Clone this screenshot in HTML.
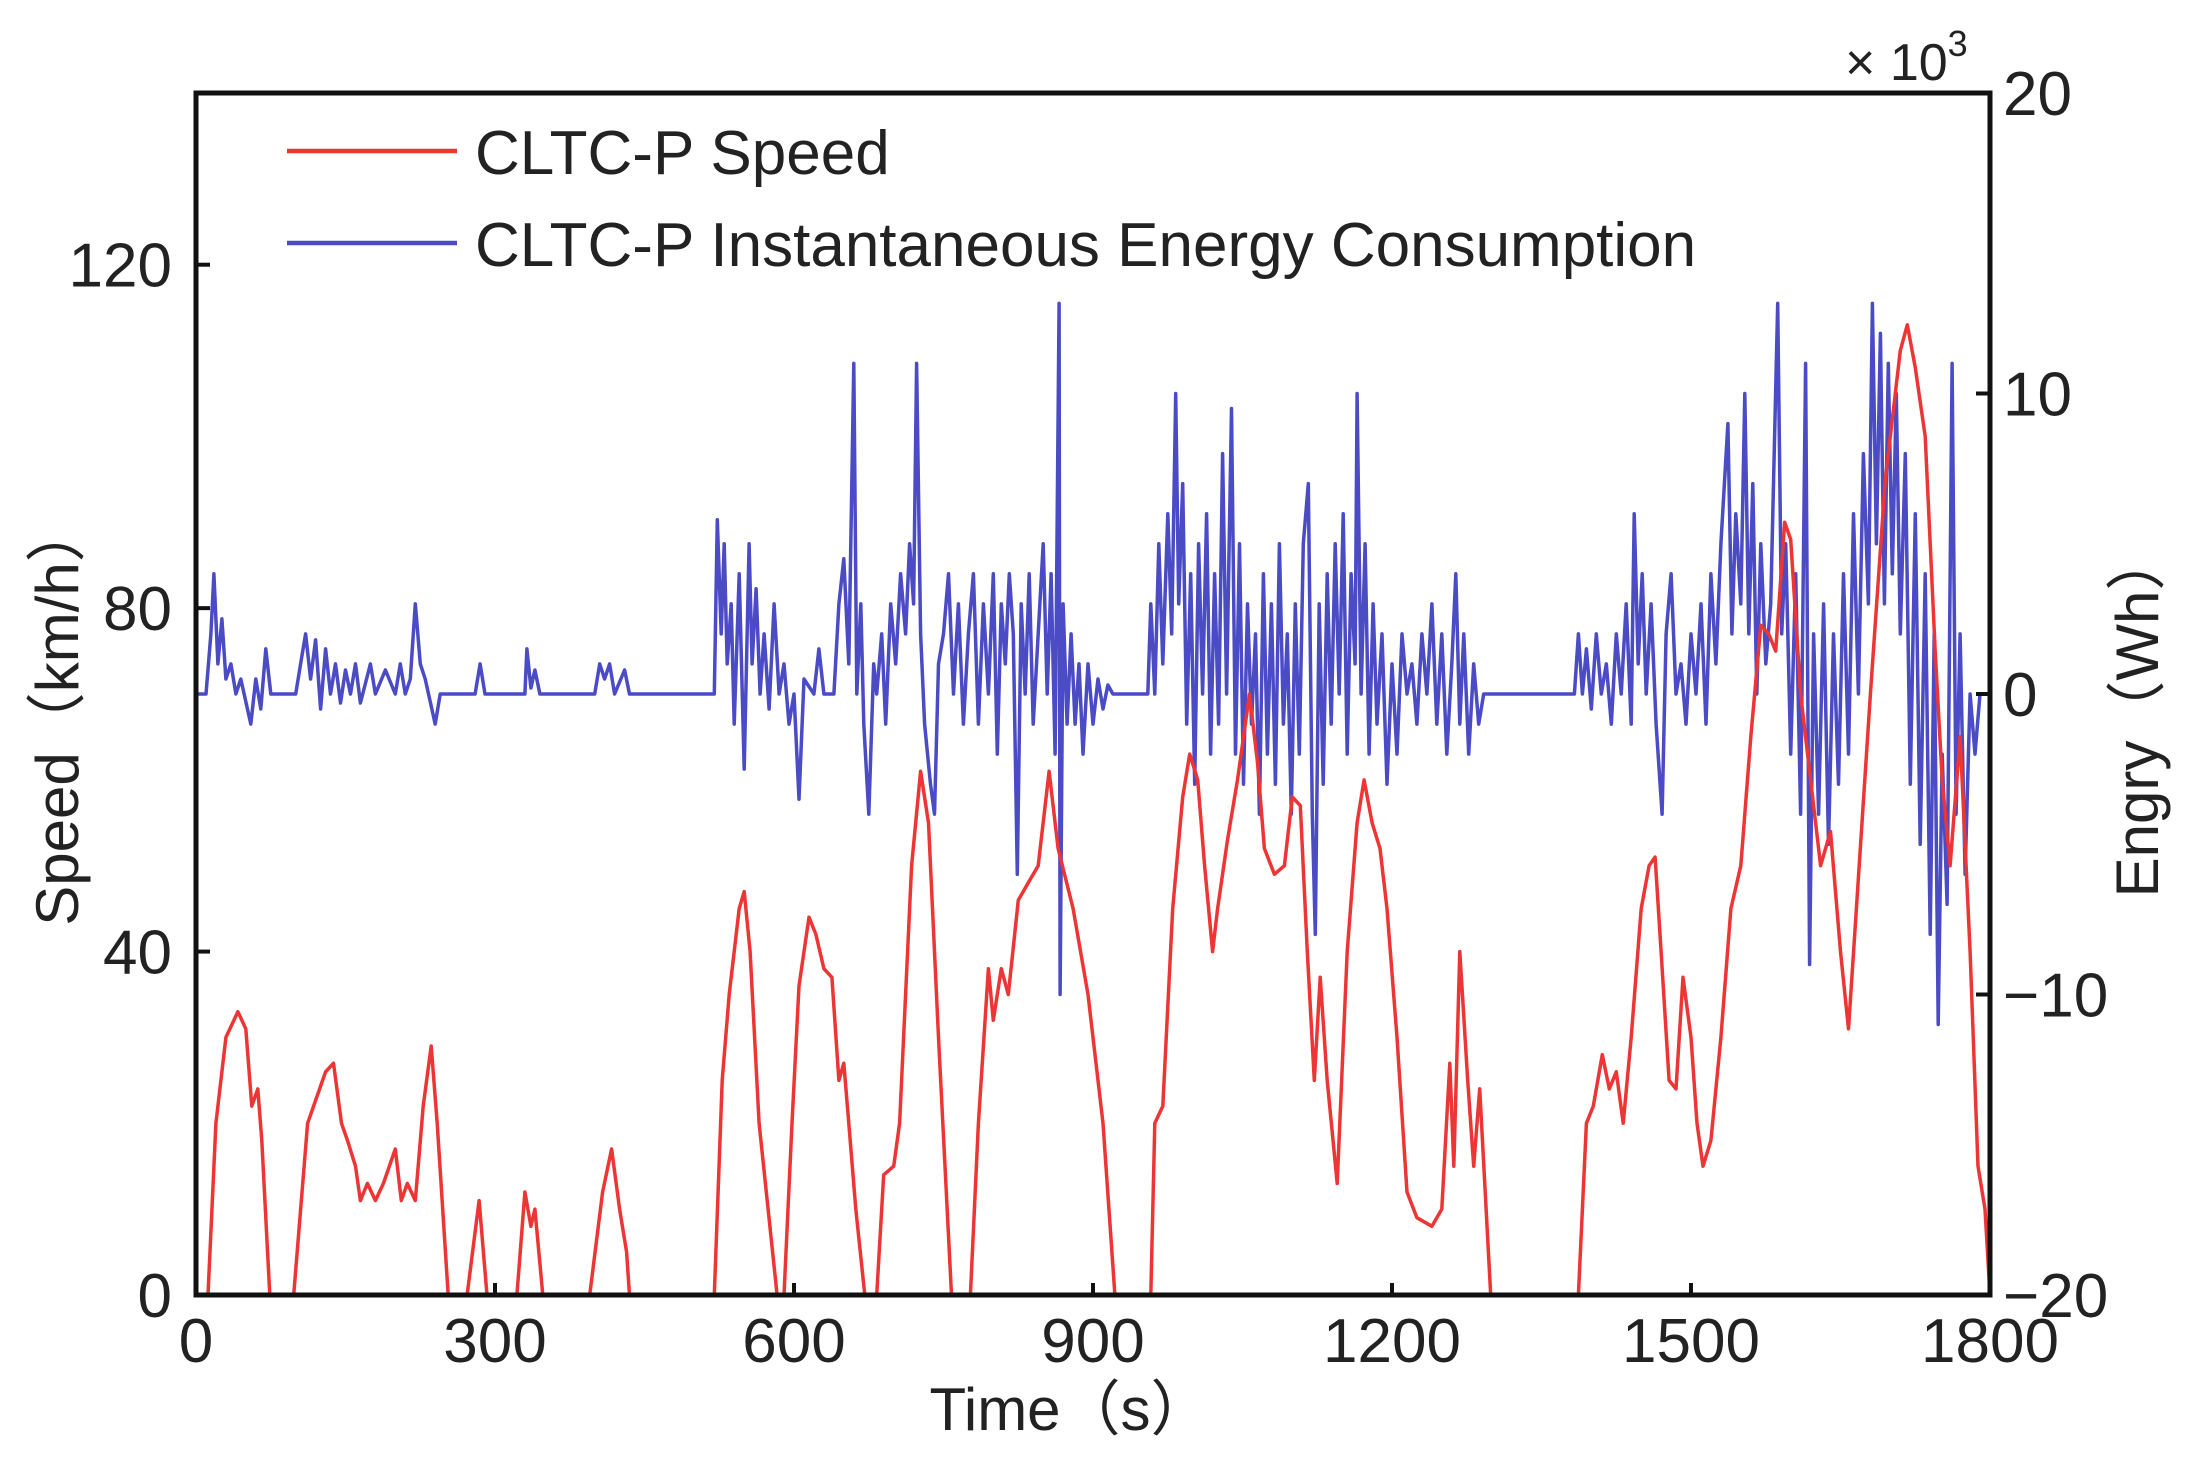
<!DOCTYPE html>
<html><head><meta charset="utf-8"><style>
html,body{margin:0;padding:0;background:#fff;}
svg{display:block;}
text{font-family:"Liberation Sans","Noto Sans CJK SC",sans-serif;fill:#222;}
</style></head><body>
<svg id="chart" width="2191" height="1457" viewBox="0 0 2191 1457" xmlns="http://www.w3.org/2000/svg">
<g id="series"></g>
<g id="axes"></g>
</svg>
<script>
const speedT=[0,12,20,30,42,50,56,62,66,74,98,112,118,130,138,146,152,160,165,172,180,188,200,206,212,220,228,236,242,253,272,284,292,322,330,336,340,348,395,408,417,425,432,435,520,528,535,545,550,556,565,583,590,598,605,615,622,630,638,645,650,655,662,671,683,690,700,706,718,727,735,745,758,777,785,795,800,808,815,825,835,845,856,865,880,895,910,922,958,962,970,980,990,997,1005,1012,1020,1025,1035,1045,1057,1065,1072,1082,1092,1100,1108,1115,1122,1128,1135,1145,1155,1165,1172,1180,1188,1195,1205,1215,1225,1240,1250,1258,1262,1268,1276,1282,1288,1299,1387,1395,1402,1411,1418,1425,1432,1440,1450,1458,1464,1470,1478,1485,1492,1500,1506,1512,1520,1530,1540,1550,1560,1570,1578,1585,1594,1600,1610,1620,1630,1640,1650,1658,1666,1680,1695,1710,1717,1725,1735,1745,1752,1760,1770,1780,1788,1795,1800];
const speedV=[0,0,20,30,33,31,22,24,18,0,0,20,22,26,27,20,18,15,11,13,11,13,17,11,13,11,22,29,20,0,0,11,0,0,12,8,10,0,0,12,17,10,5,0,0,25,35,45,47,40,20,0,0,20,36,44,42,38,37,25,27,20,10,0,0,14,15,20,50,61,55,30,0,0,20,38,32,38,35,46,48,50,61,52,45,35,20,0,0,20,22,45,58,63,60,50,40,45,53,60,70,62,52,49,50,58,57,40,25,37,25,13,40,55,60,55,52,45,30,12,9,8,10,27,15,40,25,15,24,0,0,20,22,28,24,26,20,30,45,50,51,40,25,24,37,30,20,15,18,30,45,50,65,78,77,75,90,88,70,60,50,54,40,31,45,70,95,110,113,108,100,75,60,50,65,40,15,10,0];
const energyT=[0,10,15,18,22,26,30,35,40,45,55,60,65,70,75,100,105,110,115,120,125,130,135,140,145,150,155,160,165,175,180,190,200,205,210,215,220,225,230,240,245,255,280,285,290,330,332,336,340,345,400,405,410,415,420,430,435,520,523,527,530,533,537,540,545,550,555,558,562,566,570,575,580,585,590,595,600,605,610,620,625,630,640,645,650,655,660,663,667,670,675,680,683,688,692,697,702,707,712,716,720,723,727,731,737,741,745,750,755,760,765,770,775,780,785,790,795,800,804,808,812,816,820,824,828,832,836,840,845,850,854,858,862,866,867,870,874,878,882,886,890,895,900,905,910,915,920,955,958,962,966,970,975,979,983,986,990,994,998,1002,1006,1010,1014,1018,1022,1026,1030,1034,1039,1043,1047,1051,1055,1059,1063,1067,1071,1075,1079,1083,1087,1091,1095,1099,1103,1107,1111,1116,1120,1123,1127,1131,1135,1139,1143,1147,1151,1155,1159,1163,1165,1169,1173,1177,1181,1185,1190,1195,1200,1205,1210,1215,1220,1225,1230,1235,1240,1245,1250,1255,1260,1264,1268,1272,1277,1282,1287,1292,1383,1387,1391,1395,1400,1405,1410,1415,1420,1425,1430,1435,1440,1443,1447,1451,1455,1460,1465,1471,1475,1480,1485,1490,1495,1500,1505,1510,1515,1520,1525,1530,1537,1541,1545,1550,1554,1558,1562,1566,1570,1575,1580,1587,1591,1595,1600,1605,1610,1615,1619,1623,1628,1633,1638,1643,1648,1653,1658,1663,1668,1673,1678,1682,1686,1690,1694,1698,1702,1706,1710,1715,1720,1725,1730,1735,1740,1744,1748,1752,1757,1762,1766,1770,1775,1780,1785,1790,1800];
const energyV=[0,0,2,4,1,2.5,0.5,1,0,0.5,-1,0.5,-0.5,1.5,0,0,1,2,0.5,1.8,-0.5,1.5,0,1,-0.3,0.8,0,1,-0.3,1,0,0.8,0,1,0,0.5,3,1,0.5,-1,0,0,0,1,0,0,1.5,0.2,0.8,0,0,1,0.5,1,0,0.8,0,0,5.8,2,5,1,3,-1,4,-2.5,5,1,3.5,0,2,-0.5,3,0,1,-1,0,-3.5,0.5,0,1.5,0,0,3,4.5,1,11,0,3,-1,-4,1,0,2,-1,3,1,4,2,5,3,11,2,-1,-3,-4,1,2,4,0,3,-1,2,4,-1,3,0,4,-2,3,1,4,2,-6,3,0,4,-1,2,5,0,4,-2,13,-10,3,-1,2,-1,1,-2,1,-1,0.5,-0.5,0.3,0,0,3,0,5,1,6,2,10,3,7,-1,4,-3,5,0,6,-2,4,-1,8,0,9.5,-2,5,-3,3,-1,2,-4,4,-2,3,-3,5,-1,2,-4,3,-2,5,7,-4,-8,3,-3,4,-1,5,0,6,-2,4,1,10,0,5,-2,3,-1,2,-3,1,-2,2,0,1,-1,2,0,3,-1,2,-2,1,4,-1,2,-2,1,-1,0,0,2,0,1.5,-0.5,2,0,1,-1,2,0,3,-1,6,1,4,0,3,-1,-4,2,4,0,1,-1,2,0,3,-1,4,1,5,9,2,6,3,10,2,7,0,5,1,3,13,2,5,-2,4,-4,11,-9,2,-4,3,-5,2,-3,4,-2,6,0,8,3,13,5,12,3,11,4,10,2,8,-3,6,-5,4,-8,2,-11,-2,-7,11,-4,2,-6,0,-2,0,0];
const xTicks=[0,300,600,900,1200,1500,1800];
const yLeftTicks=[0,40,80,120];
const yRightTicks=[-20,-10,0,10,20];

const L=196,R=1990,T=93,B=1295;
const x=t=>L+(t-0)/1800*(R-L);
const yS=v=>B-v/140*(B-T);
const yE=v=>B-(v+20)/40*(B-T);
const NS="http://www.w3.org/2000/svg";
const series=document.getElementById('series'),axes=document.getElementById('axes');
function mk(tag,attrs,parent,txt){const e=document.createElementNS(NS,tag);for(const k in attrs)e.setAttribute(k,attrs[k]);if(txt!==undefined)e.textContent=txt;parent.appendChild(e);return e;}

const ep=mk('polyline',{points:energyT.map((t,i)=>x(t).toFixed(1)+','+yE(energyV[i]).toFixed(1)).join(' '),fill:'none',stroke:'#4b4bc6','stroke-width':3.5,'stroke-linejoin':'round'},series);


const sp=mk('polyline',{points:speedT.map((t,i)=>x(t).toFixed(1)+','+yS(speedV[i]).toFixed(1)).join(' '),fill:'none',stroke:'#ee3535','stroke-width':3.5,'stroke-linejoin':'round'},series);



const fr=mk('rect',{x:L,y:T,width:R-L,height:B-T,fill:'none',stroke:'#111','stroke-width':5},axes);



xTicks.forEach(t=>{
  mk('line',{x1:x(t),x2:x(t),y1:B,y2:B-12,stroke:'#111','stroke-width':4},axes);
  const e=mk('text',{x:x(t),y:1362,'font-size':62,'text-anchor':'middle'},axes,String(t));
  
  
});
yLeftTicks.forEach(v=>{
  mk('line',{x1:L,x2:L+14,y1:yS(v),y2:yS(v),stroke:'#111','stroke-width':4},axes);
  const e=mk('text',{x:172,y:yS(v)+22,'font-size':62,'text-anchor':'end'},axes,String(v));
  
  
});
yRightTicks.forEach(v=>{
  mk('line',{x1:R,x2:R-14,y1:yE(v),y2:yE(v),stroke:'#111','stroke-width':4},axes);
  const e=mk('text',{x:2003,y:yE(v)+22,'font-size':62},axes,(v<0?'\u2212':'')+Math.abs(v));
  
  
});
</script>
<svg style="position:absolute;left:0;top:0" width="2191" height="1457" xmlns="http://www.w3.org/2000/svg">
<text x="1070" y="1430" font-size="60" text-anchor="middle">Time（s）</text>
<text transform="translate(78,714) rotate(-90)" font-size="60" text-anchor="middle">Speed（km/h）</text>
<text transform="translate(2158,714) rotate(-90)" font-size="60" text-anchor="middle">Engry（Wh）</text>
<text x="1845" y="80" font-size="52">× 10<tspan font-size="36" dy="-24">3</tspan></text>
<g>
<line x1="287" x2="457" y1="151" y2="151" stroke="#ee3535" stroke-width="4.5"/>
<text x="475" y="174" font-size="62">CLTC-P Speed</text>
<line x1="287" x2="457" y1="243" y2="243" stroke="#4b4bc6" stroke-width="4.5"/>
<text x="475" y="266" font-size="62">CLTC-P Instantaneous Energy Consumption</text>
</g>
</svg>
</body></html>
